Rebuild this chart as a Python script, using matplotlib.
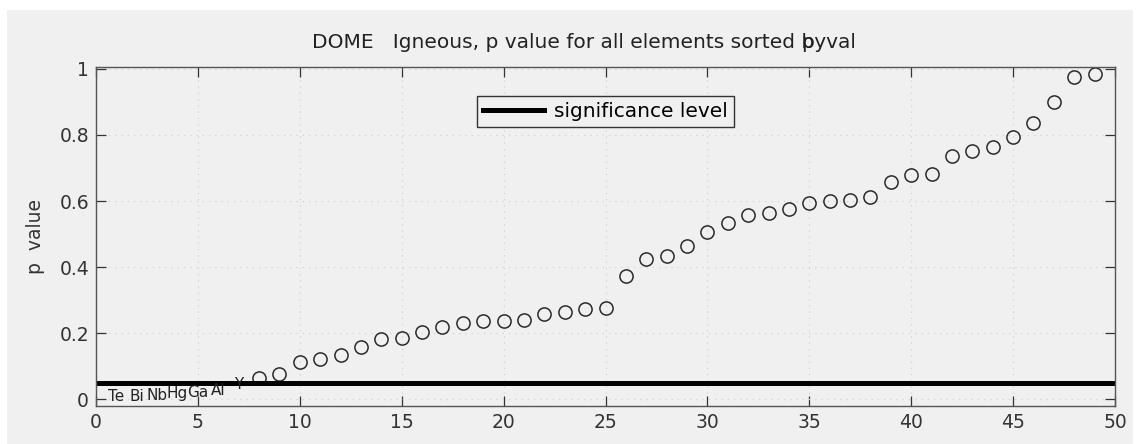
import matplotlib
matplotlib.use("Agg")
import matplotlib.pyplot as plt
from matplotlib.patches import Rectangle

# p values for each element, sorted ascending (rank 1..49)
elements = ["Te", "Bi", "Nb", "Hg", "Ga", "Al", "Y"]
p_sorted = [
    0.009, 0.009, 0.012, 0.018, 0.020, 0.027, 0.045,
    0.064, 0.076, 0.112, 0.121, 0.133, 0.158, 0.182, 0.185, 0.203,
    0.218, 0.230, 0.236, 0.236, 0.239, 0.258, 0.264, 0.272, 0.276,
    0.373, 0.424, 0.433, 0.464, 0.505, 0.533, 0.558, 0.563, 0.576,
    0.595, 0.599, 0.603, 0.612, 0.658, 0.679, 0.682, 0.736, 0.752,
    0.764, 0.794, 0.836, 0.900, 0.976, 0.985,
]
alpha = 0.05
x_ticks = [0, 5, 10, 15, 20, 25, 30, 35, 40, 45, 50]
y_ticks = [0, 0.2, 0.4, 0.6, 0.8, 1]

BG = "#f0f0f0"
plt.rcParams["font.family"] = "DejaVu Sans"

fig = plt.figure(figsize=(11.48, 4.44), dpi=100, facecolor="white")
fig.patches.append(Rectangle((7 / 1148, 0), 1126 / 1148, 1 - 10 / 444,
                             transform=fig.transFigure, facecolor=BG,
                             edgecolor="none", zorder=-10))

ax = fig.add_axes([96 / 1148, 1 - 406 / 444, 1019 / 1148, 339 / 444])
ax.set_facecolor(BG)

rank = list(range(1, len(p_sorted) + 1))
sig_x = [r for r, p in zip(rank, p_sorted) if p >= alpha]
sig_p = [p for p in p_sorted if p >= alpha]
ax.plot(sig_x, sig_p, linestyle="none", marker="o", markersize=9.5,
        markerfacecolor="none", markeredgecolor="#2a2a2a", markeredgewidth=1.1)

# elements below the significance level are labelled instead of marked
for r, p, name in zip(rank, p_sorted, elements):
    ax.text(r, p, name, ha="center", va="center", fontsize=11, color="#222222")

ax.plot([0, 50], [alpha, alpha], color="black", linewidth=3.6,
        label="significance level")

ax.set_xlim(0, 50)
ax.set_ylim(-0.021, 1.006)
ax.set_xticks(x_ticks)
ax.set_yticks(y_ticks)
ax.set_yticklabels(["0", "0.2", "0.4", "0.6", "0.8", "1"])
ax.tick_params(direction="in", length=7, width=0.9, top=True, right=True,
               labelsize=13.5, colors="#333333", pad=5)
ax.grid(True, linestyle=(0, (1, 4)), color="#d2d2d2", linewidth=0.9)
for s in ax.spines.values():
    s.set_color("#555555")
    s.set_linewidth(1.0)

ax.set_ylabel("p  value", fontsize=13.5, color="#333333", labelpad=10)

leg = ax.legend(loc="upper center", bbox_to_anchor=(0.5, 0.945), fontsize=14.5,
                frameon=True, fancybox=False, handlelength=3.0,
                borderpad=0.3, handletextpad=0.5)
leg.get_frame().set_edgecolor("#333333")
leg.get_frame().set_facecolor(BG)
leg.get_frame().set_linewidth(1.0)
leg.get_frame().set_alpha(1)

# title, with the stray "p" printed over the "b" of "byval"
title_x = 312 / 1148
title_y = 1 - 42 / 444
title_size = 14.5
prefix = "DOME   Igneous, p value for all elements sorted "
fig.text(title_x, title_y, prefix + "byval", ha="left", va="center",
         fontsize=title_size, color="#222222")
fig.canvas.draw()
tmp = fig.text(title_x, title_y, prefix, ha="left", va="center", fontsize=title_size)
bb = tmp.get_window_extent(fig.canvas.get_renderer())
tmp.remove()
fig.text(bb.x1 / fig.bbox.width, title_y, "p", ha="left", va="center",
         fontsize=title_size, color="#222222")

fig.savefig("out.png", dpi=100, facecolor=fig.get_facecolor())
